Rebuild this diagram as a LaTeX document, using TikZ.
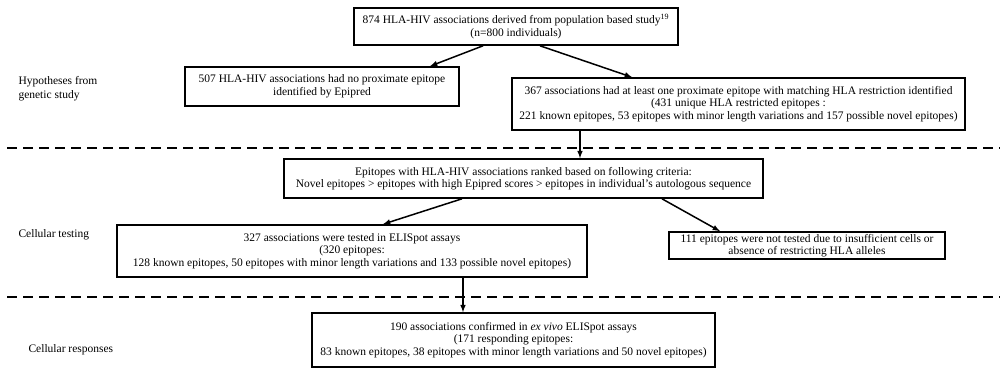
\documentclass[tikz,border=0pt]{standalone}
\usepackage{fontspec}
\setmainfont{Liberation Serif}
\usepackage{tikz}
\usetikzlibrary{arrows, positioning}

\begin{document}
\begin{tikzpicture}[x=1pt, y=-1pt, >=latex,
    box/.style={draw, line width=1.6pt, align=center, inner sep=1pt, font=\fontsize{11.5}{12.5}\selectfont},
    flow/.style={->, line width=1.5pt},
    divider/.style={line width=1.6pt, dash pattern=on 10pt off 6pt},
    stage/.style={anchor=west, align=left, font=\fontsize{11.5}{14}\selectfont}]
    \useasboundingbox (0,0) rectangle (1005,372);

    % Hypotheses
    \node [box, minimum width=324pt, minimum height=37pt] (pop) at (516,26.5)
        {874 HLA-HIV associations derived from population based study\textsuperscript{19}\\(n=800 individuals)};
    \node [box, minimum width=274pt, minimum height=39pt] (noepi) at (322,86.5)
        {507 HLA-HIV associations had no proximate epitope\\identified by Epipred};
    \node [box, minimum width=453pt, minimum height=52pt] (match) at (738.5,104)
        {367 associations had at least one proximate epitope with matching HLA restriction identified\\(431 unique HLA restricted epitopes :\\221 known epitopes, 53 epitopes with minor length variations and 157 possible novel epitopes)};
    \node [stage] (hyp) at (15,89) {Hypotheses from\\genetic study};

    \draw [flow] ([xshift=-33pt]pop.south) -- ([xshift=108pt]noepi.north);
    \draw [flow] ([xshift=24pt]pop.south) -- ([xshift=-106.5pt]match.north);

    % Cellular testing
    \node [box, minimum width=479pt, minimum height=39pt] (rank) at (523.5,178.5)
        {Epitopes with HLA-HIV associations ranked based on following criteria:\\Novel epitopes > epitopes with high Epipred scores > epitopes in individual's autologous sequence};
    \node [box, minimum width=470pt, minimum height=52pt] (tested) at (352,251)
        {327 associations were tested in ELISpot assays\\(320 epitopes:\\128 known epitopes, 50 epitopes with minor length variations and 133 possible novel epitopes)};
    \node [box, minimum width=276pt, minimum height=27pt] (untested) at (807,245.5)
        {111 epitopes were not tested due to insufficient cells or\\absence of restricting HLA alleles};
    \node [stage] (test) at (15,235) {Cellular testing};

    \draw [flow] ([xshift=-158.5pt]match.south) -- ([xshift=56.5pt]rank.north);
    \draw [flow] ([xshift=-61.5pt]rank.south) -- ([xshift=31pt]tested.north);
    \draw [flow] ([xshift=138.5pt]rank.south) -- ([xshift=-87pt]untested.north);

    % Cellular responses
    \node [box, minimum width=403pt, minimum height=54pt] (confirmed) at (513.5,340)
        {190 associations confirmed in \textit{ex vivo} ELISpot assays\\(171 responding epitopes:\\83 known epitopes, 38 epitopes with minor length variations and 50 novel epitopes)};
    \node [stage] (resp) at (25,350) {Cellular responses};

    \draw [flow] ([xshift=111pt]tested.south) -- ([xshift=-50.5pt]confirmed.north);

    % Dividers
    \coordinate (d1w) at (7,148);
    \coordinate (d1e) at (1000,148);
    \coordinate (d2w) at (7,297);
    \coordinate (d2e) at (1000,297);
    \draw [divider] (d1w) -- (d1e);
    \draw [divider] (d2w) -- (d2e);
\end{tikzpicture}
\end{document}
